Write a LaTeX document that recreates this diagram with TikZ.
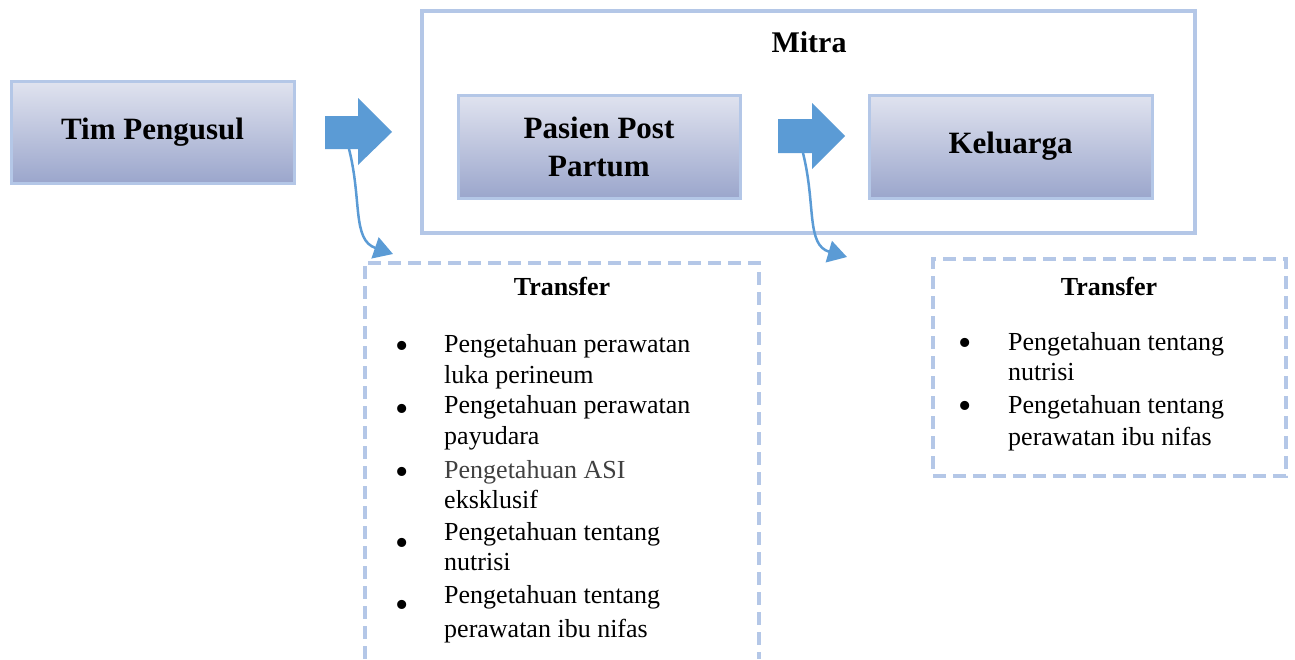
\documentclass[tikz,border=0pt]{standalone}
\usepackage{fontspec}
\setmainfont{Liberation Serif}
\usetikzlibrary{arrows.meta}
\definecolor{bord}{RGB}{180,199,231}
\definecolor{arr}{RGB}{91,155,213}
\definecolor{gtop}{RGB}{224,227,239}
\definecolor{gbot}{RGB}{155,166,204}
\begin{document}
\begin{tikzpicture}[x=1pt,y=-1pt,
  gradbox/.style={draw=bord, line width=3pt, top color=gtop, bottom color=gbot,
    inner sep=0pt, align=center, font=\fontsize{31}{38}\selectfont\bfseries},
  framebox/.style={draw=bord, line width=3.5pt, inner sep=0pt},
  dashbox/.style={draw=bord, line width=3.5pt, dash pattern=on 13pt off 7pt},
  titletext/.style={font=\fontsize{30}{36}\selectfont\bfseries, inner sep=0pt},
  trtext/.style={font=\fontsize{26}{32}\selectfont\bfseries, inner sep=0pt, anchor=base},
  itemtext/.style={font=\fontsize{26}{31}\selectfont, align=left, inner sep=0pt, anchor=base west},
  bul/.style={font=\fontsize{38}{40}\selectfont, inner sep=0pt, anchor=base},
  blockarrow/.style={fill=arr},
  curvearrow/.style={draw=arr, line width=2.5pt, -{Triangle[length=19pt,width=22pt]}}
]
\useasboundingbox (0,0) rectangle (1295,659);

% left box
\node[gradbox, minimum width=283pt, minimum height=102pt] (tim) at (152.5,132) {Tim Pengusul};

% Mitra frame
\node[framebox, minimum width=773pt, minimum height=222pt] (mitra) at (808.5,122) {};
\node[titletext, anchor=base] (mitralbl) at (809,52) {Mitra};
\node[gradbox, minimum width=282pt, minimum height=103pt] (pasien) at (599,146.5) {Pasien Post\\Partum};
\node[gradbox, minimum width=283pt, minimum height=103pt] (kel) at (1010.5,146.5) {Keluarga};

% block arrows
\fill[blockarrow] (325,116) -- (358,116) -- (358,98) -- (392,132) -- (358,165) -- (358,149) -- (325,149) -- cycle;
\fill[blockarrow] (778,119) -- (812,119) -- (812,103) -- (845,136) -- (812,169) -- (812,153) -- (778,153) -- cycle;

% curved connectors
\coordinate (c1s) at (349,149);
\coordinate (c1e) at (393,254);
\coordinate (c2s) at (803,153);
\coordinate (c2e) at (847,257);
\draw[curvearrow] (c1s) .. controls (362,200) and (352,240) .. (c1e);
\draw[curvearrow] (c2s) .. controls (816,205) and (806,245) .. (c2e);

% Transfer box 1 (open at the bottom of the page)
\node[inner sep=0pt, minimum width=394pt, minimum height=396pt] (t1) at (562,461) {};
\draw[dashbox] (t1.south west) -- (t1.north west) -- (t1.north east) -- (t1.south east);
\node[trtext] (tr1) at (562,295) {Transfer};

\node[bul] (b1) at (402,358) {•};
\node[bul] (b2) at (402,421) {•};
\node[bul] (b3) at (402,484) {•};
\node[bul] (b4) at (402,555) {•};
\node[bul] (b5) at (402,617) {•};
\node[itemtext] (i1) at (444,383) {Pengetahuan perawatan\\luka perineum};
\node[itemtext] (i2) at (444,444) {Pengetahuan perawatan\\payudara};
\node[itemtext] (i3) at (444,508) {{\color{black!75}Pengetahuan ASI}\\[-1pt]eksklusif};
\node[itemtext] (i4) at (444,570) {Pengetahuan tentang\\[-1pt]nutrisi};
\node[itemtext] (i5) at (444,637) {Pengetahuan tentang\\[3pt]perawatan ibu nifas};

% Transfer box 2
\node[dashbox, inner sep=0pt, minimum width=353pt, minimum height=217pt] (t2) at (1109.5,367.5) {};
\node[trtext] (tr2) at (1109,295) {Transfer};
\node[bul] (b6) at (965,355) {•};
\node[bul] (b7) at (965,418) {•};
\node[itemtext] (i6) at (1008,380) {Pengetahuan tentang\\[-1pt]nutrisi};
\node[itemtext] (i7) at (1008,445) {Pengetahuan tentang\\[1pt]perawatan ibu nifas};
\end{tikzpicture}
\end{document}
